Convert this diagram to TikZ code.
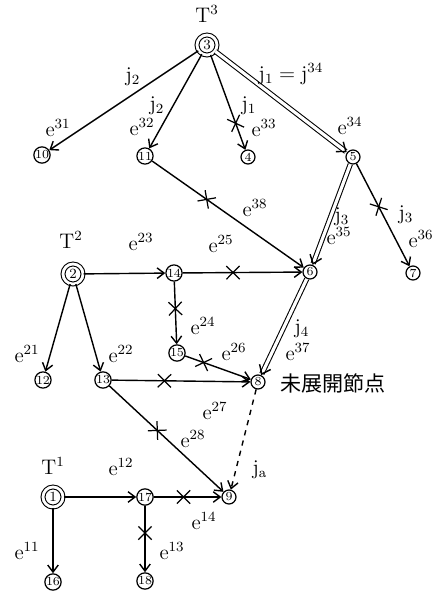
\documentclass[tikz,border=0pt]{standalone}
\usepackage{fontspec}
\newfontfamily\jpfont{Noto Sans CJK JP}
\usetikzlibrary{arrows.meta,shapes.misc,decorations.markings}
\tikzset{
  nd/.style={draw,circle,inner sep=0pt,minimum size=0.28cm,line width=0.7pt,font=\scriptsize},
  root/.style={draw,circle,double,line width=0.6pt,double distance=1.6pt,inner sep=0pt,minimum size=0.4cm,font=\footnotesize},
  arr/.style={line width=0.8pt,-{Straight Barb[length=4pt,width=6pt]}},
  dbl/.style={line width=0.6pt,double,double distance=1.8pt,shorten >=0.8pt,
    postaction={decorate,decoration={markings,mark=at position 1 with
      {\arrow[line width=0.8pt]{Straight Barb[length=4.5pt,width=7pt]}}}}},
  cut/.style={draw,cross out,sloped,inner sep=0pt,minimum size=0.24cm,line width=0.7pt},
  lbl/.style={font=\large},
}
\newcommand{\eu}[1]{$\mathrm{e}^{#1}$}
\newcommand{\ju}[1]{$\mathrm{j}_{\mathrm{#1}}$}
\begin{document}
\begin{tikzpicture}[x=0.02cm,y=-0.02cm]
\useasboundingbox (0,0) rectangle (442,593);

% tree T3
\node[root] (n3) at (207,45) {3};
\node[nd] (n10) at (42,155) {10};
\node[nd] (n11) at (145,156) {11};
\node[nd] (n4) at (248,157) {4};
\node[nd] (n5) at (353,157) {5};
\node[nd] (n6) at (310,272) {6};
\node[nd] (n7) at (413,273) {7};

% tree T2
\node[root] (n2) at (73,274) {2};
\node[nd] (n14) at (174,273) {14};
\node[nd] (n15) at (177,353) {15};
\node[nd] (n12) at (43,380) {12};
\node[nd] (n13) at (103,380) {13};
\node[nd] (n8) at (258,382) {8};

% tree T1
\node[root] (n1) at (53,497) {1};
\node[nd] (n17) at (145,497) {17};
\node[nd] (n9) at (229,497) {9};
\node[nd] (n16) at (53,582) {16};
\node[nd] (n18) at (145,581) {18};

\draw[arr] (n3) -- (n10);
\draw[arr] (n3) -- (n11);
\draw[arr] (n3) -- node[cut,pos=.72] (x1) {} (n4);
\draw[dbl] (n3) -- (n5);
\draw[arr] (n11) -- node[cut,pos=.36] (x2) {} (n6);
\draw[dbl] (n5) -- (n6);
\draw[arr] (n5) -- node[cut,pos=.42] (x3) {} (n7);

\draw[arr] (n2) -- (n14);
\draw[arr] (n14) -- node[cut,pos=.42] (x4) {} (n6);
\draw[arr] (n14) -- node[cut,pos=.43] (x5) {} (n15);
\draw[arr] (n2) -- (n12);
\draw[arr] (n2) -- (n13);
\draw[arr] (n15) -- node[cut,pos=.28] (x6) {} (n8);
\draw[arr] (n13) -- node[cut,pos=.38] (x7) {} (n8);
\draw[dbl] (n6) -- (n8);
\draw[arr] (n13) -- node[cut,pos=.42] (x8) {} (n9);
\draw[arr,dashed] (n8) -- (n9);

\draw[arr] (n1) -- (n17);
\draw[arr] (n17) -- node[cut,pos=.44] (x9) {} (n9);
\draw[arr] (n17) -- node[cut,pos=.41] (x10) {} (n18);
\draw[arr] (n1) -- (n16);

% labels
\node[lbl] (t3) at (207,14) {$\mathrm{T}^3$};
\node[lbl] (la) at (133,77) {\ju2};
\node[lbl] (lb) at (58,128) {\eu{31}};
\node[lbl] (lc) at (157,106) {\ju2};
\node[lbl] (ld) at (142,127) {\eu{32}};
\node[lbl] (le) at (249,106) {\ju1};
\node[lbl] (lf) at (264,128) {\eu{33}};
\node[lbl] (lg) at (291,74) {$\mathrm{j}_1=\mathrm{j}^{34}$};
\node[lbl] (lh) at (350,126) {\eu{34}};
\node[lbl] (li) at (255,208) {\eu{38}};
\node[lbl] (lj) at (342,217) {\ju3};
\node[lbl] (lk) at (339,236) {\eu{35}};
\node[lbl] (ll) at (406,215) {\ju3};
\node[lbl] (lm) at (421,239) {\eu{36}};

\node[lbl] (t2) at (71,240) {$\mathrm{T}^2$};
\node[lbl] (ln) at (141,242) {\eu{23}};
\node[lbl] (lo) at (221,244) {\eu{25}};
\node[lbl] (lp) at (203,326) {\eu{24}};
\node[lbl] (lq) at (27,354) {\eu{21}};
\node[lbl] (lr) at (121,354) {\eu{22}};
\node[lbl] (ls) at (234,352) {\eu{26}};
\node[lbl] (lt) at (302,329) {\ju4};
\node[lbl] (lu) at (298,352) {\eu{37}};
\node (lv) at (333,383) {\jpfont\large 未展開節点};
\node[lbl] (lw) at (215,411) {\eu{27}};
\node[lbl] (lx) at (193,439) {\eu{28}};
\node[lbl] (ly) at (260,470) {\ju{a}};

\node[lbl] (t1) at (53,466) {$\mathrm{T}^1$};
\node[lbl] (lz) at (121,467) {\eu{12}};
\node[lbl] (m1) at (204,521) {\eu{14}};
\node[lbl] (m2) at (172,551) {\eu{13}};
\node[lbl] (m3) at (27,551) {\eu{11}};
\end{tikzpicture}
\end{document}
